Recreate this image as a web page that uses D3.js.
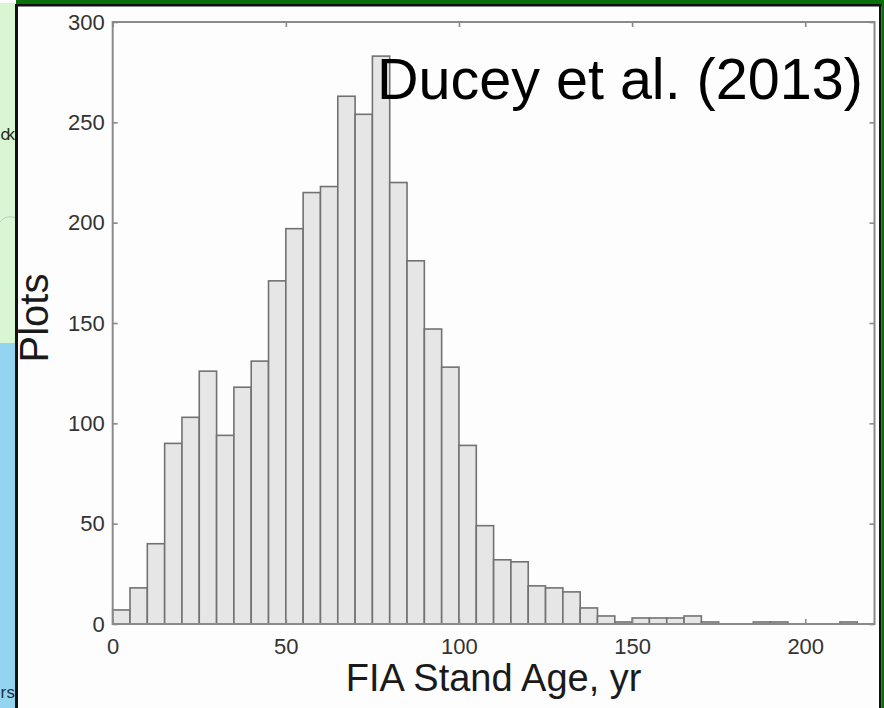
<!DOCTYPE html>
<html>
<head>
<meta charset="utf-8">
<script src="https://cdn.jsdelivr.net/npm/d3@7"></script>
<style>
  html, body { margin: 0; padding: 0; background: #fff; }
  svg { display: block; }
  text { font-family: "Liberation Sans", Arial, sans-serif; }
</style>
</head>
<body>
<div id="chart"></div>
<script>
// bin lower edges (yr), bins 5 yr wide
const ageBins = [0, 5, 10, 15, 20, 25, 30, 35, 40, 45, 50, 55, 60, 65, 70, 75, 80, 85, 90, 95,
  100, 105, 110, 115, 120, 125, 130, 135, 140, 145, 150, 155, 160, 165, 170, 175, 180, 185, 190, 195,
  200, 205, 210, 215];
// number of plots per bin
const plotCounts = [7, 18, 40, 90, 103, 126, 94, 118, 131, 171, 197, 215, 218, 263, 254, 283, 220, 181, 147, 128,
  89, 49, 32, 31, 19, 18, 16, 8, 4, 1, 3, 3, 3, 4, 1, 0, 0, 1, 1, 0,
  0, 0, 1, 0];
const binWidth = 5;
const xTicks = [0, 50, 100, 150, 200];
const yTicks = [0, 50, 100, 150, 200, 250, 300];

const width = 884;
const height = 708;
const plot = { left: 112.7, right: 874.5, top: 22, bottom: 624 };

const svg = d3.select("#chart")
  .append("svg")
  .attr("width", width)
  .attr("height", height);

// slide frame around the figure
svg.append("rect").attr("x", 0).attr("y", 0).attr("width", width).attr("height", height).attr("fill", "#fdfdfd");
svg.append("rect").attr("x", 0).attr("y", 3).attr("width", 16).attr("height", 342).attr("fill", "#d9f6d3");
svg.append("rect").attr("x", 0).attr("y", 343).attr("width", 16).attr("height", 365).attr("fill", "#93d5f0");
svg.append("path")
  .attr("d", "M0,222 Q6,214 16,218")
  .attr("fill", "none").attr("stroke", "#b9cfc0").attr("stroke-width", 1);
svg.append("text").attr("x", 0.5).attr("y", 140)
  .attr("font-size", 17).attr("textLength", 14.5).attr("fill", "#1f2e1f").text("ck");
svg.append("text").attr("x", 0.5).attr("y", 698)
  .attr("font-size", 17).attr("textLength", 14.5).attr("fill", "#1f2e38").text("rs");
svg.append("rect").attr("x", 16).attr("y", 0).attr("width", width - 16).attr("height", 5).attr("fill", "#0b6f0b");
svg.append("rect").attr("x", 16).attr("y", 4).attr("width", width - 16).attr("height", 2.5).attr("fill", "#111");
svg.append("rect").attr("x", 15).attr("y", 4).attr("width", 3).attr("height", height).attr("fill", "#111");
svg.append("rect").attr("x", 879).attr("y", 4).attr("width", 2.5).attr("height", height).attr("fill", "#111");
svg.append("rect").attr("x", 881.5).attr("y", 0).attr("width", 2.5).attr("height", height).attr("fill", "#0b6f0b");

const x = d3.scaleLinear()
  .domain([0, 220])
  .range([plot.left, plot.right]);

const y = d3.scaleLinear()
  .domain([0, 300])
  .range([plot.bottom, plot.top]);

const bins = ageBins.map((b, i) => ({ x0: b, x1: b + binWidth, n: plotCounts[i] }));

// bars
svg.append("g")
  .selectAll("rect")
  .data(bins)
  .enter()
  .append("rect")
  .attr("x", d => x(d.x0))
  .attr("y", d => y(d.n))
  .attr("width", d => x(d.x1) - x(d.x0))
  .attr("height", d => y(0) - y(d.n))
  .attr("fill", "#e6e6e6")
  .attr("stroke", "#727272")
  .attr("stroke-width", 1.6);

// axes, ticks pointing inward like MATLAB
const axisColor = "#8a8a8a";
function styleAxis(g) {
  g.select(".domain").remove();
  g.selectAll(".tick line").attr("stroke", axisColor).attr("stroke-width", 1.6);
  g.selectAll(".tick text")
    .attr("fill", "#333")
    .attr("font-size", 22)
    .attr("font-family", "Liberation Sans, Arial, sans-serif");
}

svg.append("g")
  .attr("transform", `translate(0,${plot.bottom})`)
  .call(d3.axisBottom(x).tickValues(xTicks).tickSizeInner(-5).tickSizeOuter(0).tickPadding(14))
  .call(styleAxis);

svg.append("g")
  .attr("transform", `translate(0,${plot.top})`)
  .call(d3.axisTop(x).tickValues(xTicks).tickSizeInner(-5).tickSizeOuter(0).tickFormat(""))
  .call(styleAxis);

svg.append("g")
  .attr("transform", `translate(${plot.left},0)`)
  .call(d3.axisLeft(y).tickValues(yTicks).tickSizeInner(-5).tickSizeOuter(0).tickPadding(8))
  .call(styleAxis);

svg.append("g")
  .attr("transform", `translate(${plot.right},0)`)
  .call(d3.axisRight(y).tickValues(yTicks).tickSizeInner(-5).tickSizeOuter(0).tickFormat(""))
  .call(styleAxis);

// box
svg.append("rect")
  .attr("x", plot.left)
  .attr("y", plot.top)
  .attr("width", plot.right - plot.left)
  .attr("height", plot.bottom - plot.top)
  .attr("fill", "none")
  .attr("stroke", axisColor)
  .attr("stroke-width", 2);

// axis titles
svg.append("text")
  .attr("text-anchor", "middle")
  .attr("x", (plot.left + plot.right) / 2)
  .attr("y", 691)
  .attr("font-size", 38)
  .attr("fill", "#1a1a1a")
  .text("FIA Stand Age, yr");

svg.append("text")
  .attr("text-anchor", "middle")
  .attr("transform", `translate(48, ${(plot.top + plot.bottom) / 2 - 5}) rotate(-90)`)
  .attr("font-size", 40)
  .attr("fill", "#1a1a1a")
  .text("Plots");

// citation label
svg.append("text")
  .attr("x", 377)
  .attr("y", 99)
  .attr("font-size", 57.5)
  .attr("fill", "#000")
  .text("Ducey et al. (2013)");
</script>
</body>
</html>
